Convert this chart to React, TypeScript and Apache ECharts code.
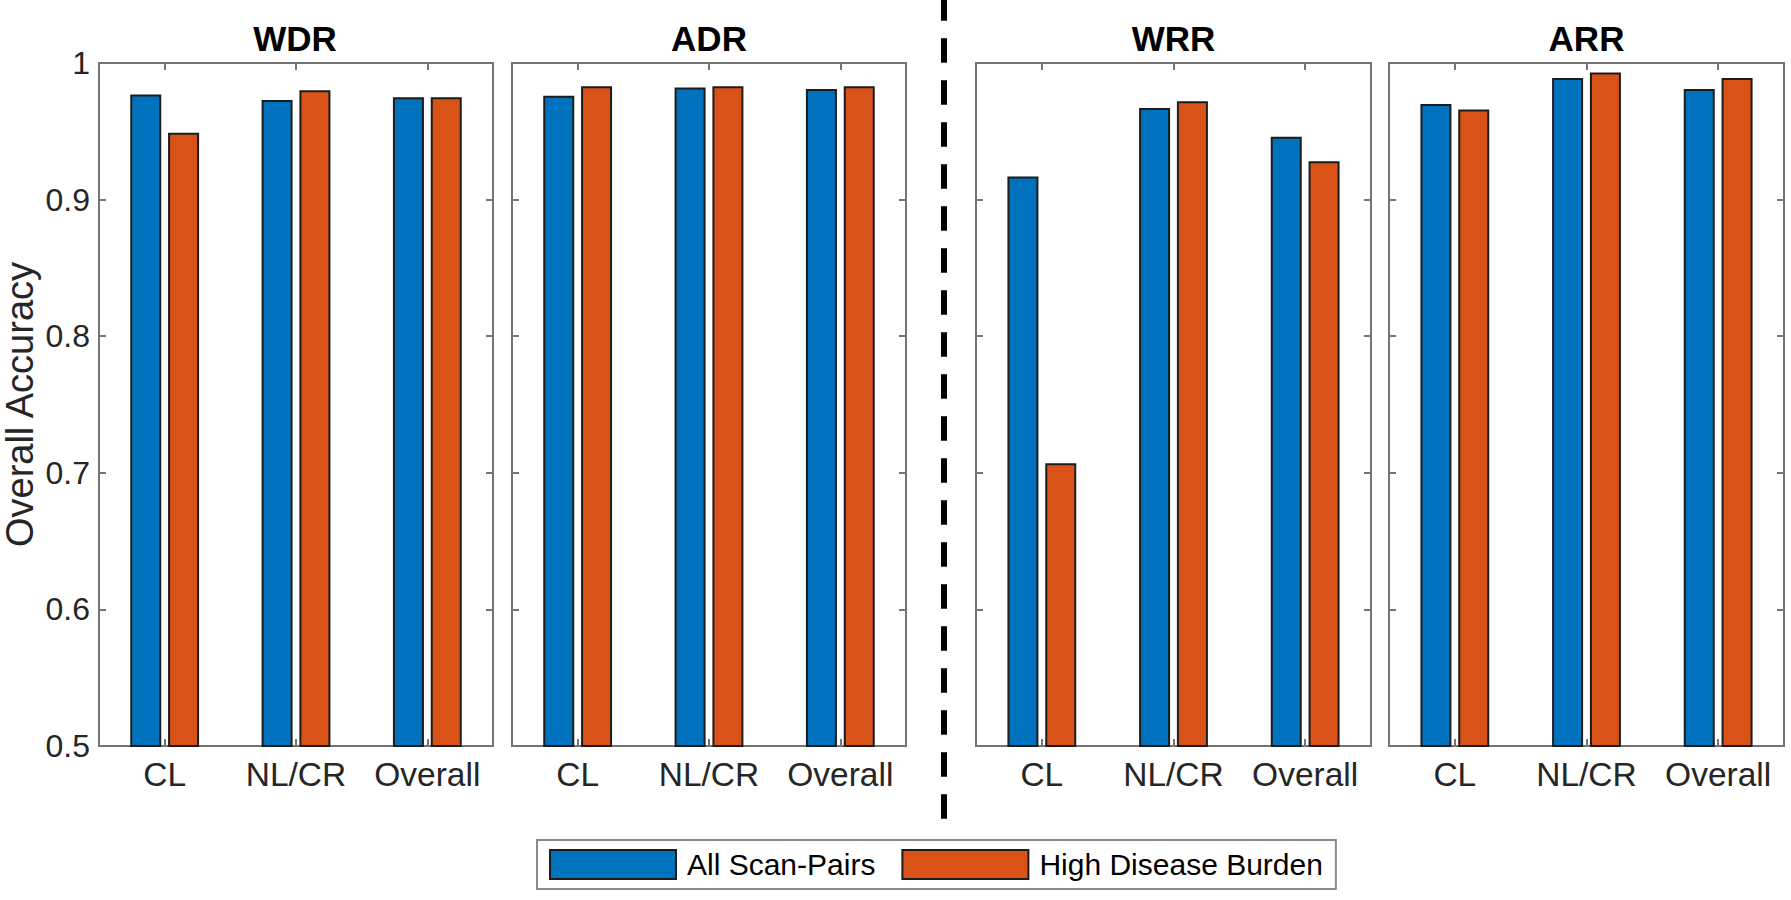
import React, { useEffect, useRef } from "react";
import * as echarts from "echarts";

const categories = ["CL", "NL/CR", "Overall"];
const panelTitles = ["WDR", "ADR", "WRR", "ARR"];
const seriesNames = ["All Scan-Pairs", "High Disease Burden"];

const wdrAll = [0.977, 0.973, 0.975];
const wdrHigh = [0.949, 0.980, 0.975];
const adrAll = [0.976, 0.982, 0.981];
const adrHigh = [0.983, 0.983, 0.983];
const wrrAll = [0.917, 0.967, 0.946];
const wrrHigh = [0.707, 0.972, 0.928];
const arrAll = [0.970, 0.989, 0.981];
const arrHigh = [0.966, 0.993, 0.989];

const yMin = 0.5;
const yMax = 1;
const yStep = 0.1;

const panelData = [
  [wdrAll, wdrHigh],
  [adrAll, adrHigh],
  [wrrAll, wrrHigh],
  [arrAll, arrHigh],
];

const FONT = "'Liberation Sans', Arial, Helvetica, sans-serif";
const BLUE = "#0072BD";
const ORANGE = "#D95319";
const AXIS_GRAY = "#757575";

const gridRects = [
  { left: 97, width: 396 },
  { left: 512, width: 394 },
  { left: 976, width: 395 },
  { left: 1389, width: 395 },
];
const GRID_TOP = 63;
const GRID_H = 683;

export default function App() {
  const ref = useRef<HTMLDivElement>(null);

  useEffect(() => {
    if (!ref.current) return;
    const chart = echarts.init(ref.current, null, { renderer: "svg" });

    const grids: any[] = [];
    const xAxes: any[] = [];
    const yAxes: any[] = [];
    const series: any[] = [];
    const titles: any[] = [];

    gridRects.forEach((g, i) => {
      grids.push({
        left: g.left,
        top: GRID_TOP,
        width: g.width,
        height: GRID_H,
        show: true,
        borderColor: AXIS_GRAY,
        borderWidth: 2,
        backgroundColor: "#fff",
      });
      titles.push({
        text: panelTitles[i],
        left: g.left + g.width / 2,
        top: 21,
        textAlign: "center",
        padding: 0,
        textStyle: { fontFamily: FONT, fontSize: 35, fontWeight: "bold", color: "#000" },
      });
      const tickStyle = {
        show: true,
        inside: true,
        length: 7,
        alignWithLabel: true,
        lineStyle: { color: AXIS_GRAY, width: 2 },
      };
      xAxes.push({
        type: "category",
        gridIndex: i,
        data: categories,
        position: "bottom",
        axisLine: { show: false },
        axisTick: tickStyle,
        axisLabel: { interval: 0, fontFamily: FONT, fontSize: 33.5, color: "#262626", margin: 11 },
      });
      xAxes.push({
        type: "category",
        gridIndex: i,
        data: categories,
        position: "top",
        axisLine: { show: false },
        axisTick: tickStyle,
        axisLabel: { show: false },
      });
      yAxes.push({
        type: "value",
        gridIndex: i,
        min: yMin,
        max: yMax,
        interval: yStep,
        position: "left",
        name: i === 0 ? "Overall Accuracy" : "",
        nameLocation: "middle",
        nameRotate: 90,
        nameGap: 60,
        nameTextStyle: { fontFamily: FONT, fontSize: 38, color: "#262626" },
        axisLine: { show: false },
        axisTick: { show: true, inside: true, length: 7, lineStyle: { color: AXIS_GRAY, width: 2 } },
        splitLine: { show: false },
        axisLabel: {
          show: i === 0,
          fontFamily: FONT,
          fontSize: 32,
          color: "#262626",
          margin: 9,
          formatter: (v: number) => String(Number(v.toFixed(1))),
        },
      });
      yAxes.push({
        type: "value",
        gridIndex: i,
        min: yMin,
        max: yMax,
        interval: yStep,
        position: "right",
        axisLine: { show: false },
        axisTick: { show: true, inside: true, length: 7, lineStyle: { color: AXIS_GRAY, width: 2 } },
        splitLine: { show: false },
        axisLabel: { show: false },
      });
      panelData[i].forEach((vals, s) => {
        series.push({
          type: "bar",
          name: seriesNames[s],
          xAxisIndex: i * 2,
          yAxisIndex: i * 2,
          data: vals,
          barWidth: 31,
          barGap: "22%",
          clip: true,
          itemStyle: {
            color: s === 0 ? BLUE : ORANGE,
            borderColor: "#1c1c1c",
            borderWidth: 2,
          },
          emphasis: { disabled: true },
        });
      });
    });

    chart.setOption({
      animation: false,
      backgroundColor: "#fff",
      title: titles,
      grid: grids,
      xAxis: xAxes,
      yAxis: yAxes,
      series,
      legend: {
        data: seriesNames,
        left: 537,
        top: 840,
        orient: "horizontal",
        icon: "rect",
        itemWidth: 126,
        itemHeight: 29,
        itemGap: 26,
        padding: [9, 13, 9, 12],
        borderColor: "#8a8a8a",
        borderWidth: 2,
        backgroundColor: "#fff",
        itemStyle: { borderColor: "#1c1c1c", borderWidth: 2 },
        textStyle: { fontFamily: FONT, fontSize: 30, color: "#000", padding: [0, 0, 0, 6] },
        selectedMode: false,
      },
      graphic: [
        {
          type: "line",
          shape: { x1: 944, y1: -3.7, x2: 944, y2: 818.7 },
          style: { stroke: "#000", lineWidth: 6, lineDash: [24.4, 17.6], lineCap: "butt" },
          z: 10,
        },
      ],
    });

    return () => chart.dispose();
  }, []);

  return (
    <div
      ref={ref}
      style={{ position: "absolute", left: 0, top: 0, width: 1791, height: 900 }}
    />
  );
}
